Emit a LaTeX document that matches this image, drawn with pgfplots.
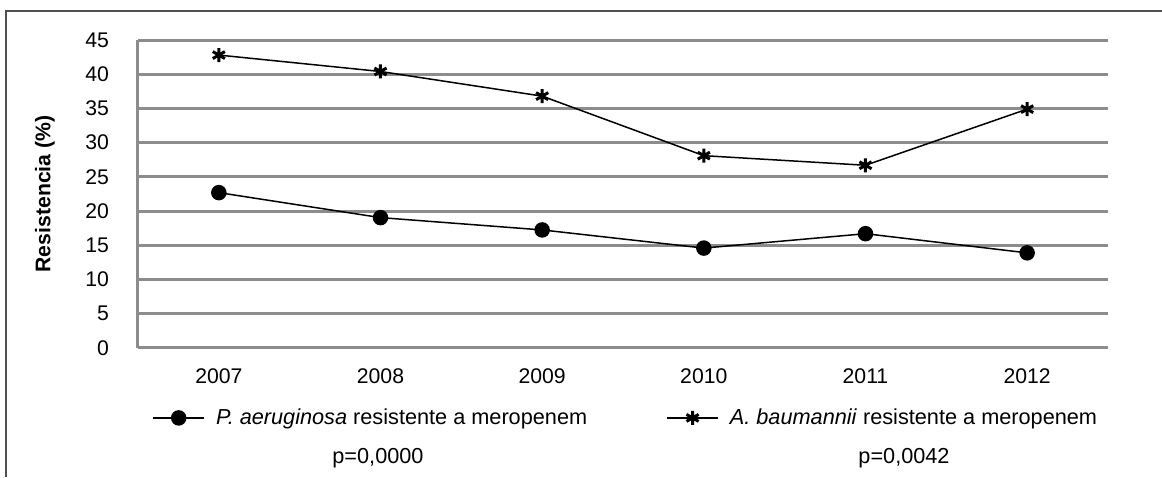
\documentclass[border=0pt]{standalone}
\usepackage{fontspec}
\setmainfont{Liberation Sans}
\usepackage{pgfplots}
\pgfplotsset{compat=1.18}
\definecolor{gridgray}{RGB}{140,140,140}
\definecolor{framegray}{RGB}{80,80,80}
\begin{document}
\begin{tikzpicture}
\draw[framegray, line width=0.8pt] (3pt,0pt) -- (3pt,233pt) -- (581pt,233pt);
\begin{axis}[
  at={(69pt,64.5pt)}, anchor=south west,
  scale only axis, width=485pt, height=154pt,
  xmin=-0.5, xmax=5.5, ymin=0, ymax=45,
  xtick={0,1,2,3,4,5},
  xticklabels={2007,2008,2009,2010,2011,2012},
  ytick={0,5,...,45},
  major tick length=0pt,
  axis x line*=bottom,
  x axis line style={draw=none},
  axis y line*=left,
  y axis line style={gridgray, line width=1.5pt, -},
  ymajorgrids,
  grid style={gridgray, line width=1.5pt},
  tick label style={font=\fontsize{10.6}{12}\selectfont},
  /pgf/number format/assume math mode=true,
  yticklabel style={xshift=-11pt},
  xticklabel style={yshift=-7pt},
  ylabel={\bfseries Resistencia (\%)},
  ylabel style={font=\fontsize{10.6}{12}\selectfont, at={(axis description cs:-0.0959,0.5)}, anchor=center},
  clip=false,
  legend columns=2,
  legend style={draw=none, fill=none, font=\fontsize{10.85}{12}\selectfont,
    at={(axis description cs:0.0082,-0.227)}, anchor=west,
    /tikz/every odd column/.append style={column sep=3.5pt},
    /tikz/every even column/.append style={column sep=37.5pt}},
  legend image code/.code={\draw[mark repeat=2, mark phase=2] plot coordinates {(0cm,0cm) (0.45cm,0cm) (0.9cm,0cm)};},
]
\addplot[black, line width=0.75pt, mark=*, mark size=3.5pt, mark options={solid, fill=black}]
  coordinates {(0,22.7) (1,19.05) (2,17.25) (3,14.6) (4,16.7) (5,13.9)};
\addlegendentry{\textit{P. aeruginosa} resistente a meropenem}
\addplot[black, line width=0.75pt, mark=asterisk, mark size=3.5pt, mark options={solid, line width=1.5pt}]
  coordinates {(0,42.8) (1,40.4) (2,36.8) (3,28.1) (4,26.7) (5,34.9)};
\addlegendentry{\textit{A. baumannii} resistente a meropenem}
\node[font=\fontsize{10.85}{12}\selectfont] at (axis description cs:0.2474,-0.357) {p=0,0000};
\node[font=\fontsize{10.85}{12}\selectfont] at (axis description cs:0.7897,-0.357) {p=0,0042};
\end{axis}
\pgfresetboundingbox
\useasboundingbox (0pt,0pt) rectangle (581pt,238.5pt);
\end{tikzpicture}
\end{document}
